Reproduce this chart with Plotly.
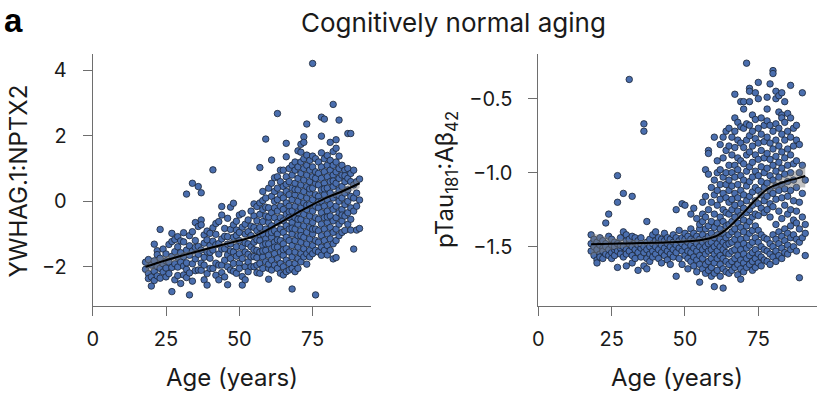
import plotly.graph_objects as go

# ---------------- data: left panel (YWHAG.1:NPTX2) ----------------
ages_a = list(range(18, 92))
vals_a = [
    [-2.08, -1.86],
    [-2.21, -2.36, -1.78],
    [-2.59, -2.31, -1.95],
    [-1.31, -2.14, -1.82, -2.42],
    [-1.51, -2.28, -1.63, -1.99],
    [-0.86, -2.35, -1.74, -2.05],
    [-2.16, -1.91, -1.46],
    [-1.61, -2.04, -2.31, -1.82],
    [-1.32, -1.86, -2.21],
    [-0.98, -2.76, -1.23, -1.68, -2.02],
    [-1.91, -2.40, -1.54, -1.17],
    [-1.08, -1.39, -2.01, -1.71, -2.27],
    [-1.57, -2.51, -1.21, -1.86],
    [-0.96, -1.24, -2.25, -1.69, -1.98],
    [0.22, -2.08, -1.49, -1.88, -2.33],
    [-1.36, -2.86, -1.65, -2.19, -1.05],
    [0.55, -0.93, -1.52, -1.91, -2.44],
    [-0.65, -1.20, -2.12, -1.76, -1.41],
    [0.45, -2.10, -1.38, -0.77, -1.62],
    [0.26, -0.57, -0.72, -1.49, -2.11, -1.89],
    [-1.03, -1.28, -2.40, -1.71, -1.95],
    [-2.56, -1.55, -0.91, -2.21, -1.18],
    [-0.98, -1.74, -1.35, -2.05, -1.56],
    [0.96, -2.05, -1.49, -0.81, -1.22],
    [-1.33, -1.89, -1.01, -2.26, -0.68],
    [-2.40, -1.61, -0.62, -1.29, -1.95],
    [-0.16, -0.42, -1.15, -1.95, -1.46, -2.18],
    [-0.83, -1.45, -1.80, -2.31, -1.07],
    [-0.52, -1.08, -1.64, -2.55, -2.00, -1.31],
    [-2.10, -1.30, -0.86, -1.75, -1.52, -0.18],
    [-0.06, -1.55, -1.90, -1.10, -0.72, -2.14],
    [-0.88, -1.39, -2.20, -0.61, -1.68, -1.05],
    [-1.89, -1.20, -1.60, -0.95, -0.42, -2.05],
    [-2.30, -2.56, -0.37, -1.40, -1.75, -0.79],
    [-2.40, -1.00, -1.55, -2.00, -0.70, -1.27],
    [-0.57, -0.93, -1.30, -1.85, -2.15, -1.62],
    [-1.39, -0.30, -1.05, -1.70, -2.00, -0.76],
    [-1.69, -2.00, -0.80, -1.25, -0.45, -1.48, -0.08],
    [-0.16, -1.18, -1.50, -1.95, -0.60, -0.90, -1.72, -2.18],
    [1.03, -0.05, -0.40, -0.80, -1.20, -1.55, -1.90, -2.20, -1.02],
    [0.30, -0.25, -0.62, -1.00, -1.35, -1.70, -2.05, 0.02, -1.52],
    [1.90, 0.10, -0.45, -0.85, -1.15, -1.50, -1.85, -0.18, -1.30],
    [-2.38, -2.05, -0.20, 0.40, -0.65, -1.00, -1.30, -1.65, -1.92, -0.48],
    [1.26, 0.55, 0.15, -0.35, -0.75, -1.10, -1.45, -1.80, -2.10, -0.95],
    [0.00, 0.30, -0.50, -0.90, -1.25, -1.60, -1.95, -0.20, -1.40, 0.72],
    [2.68, 0.75, 0.40, 0.05, -0.30, -0.65, -1.00, -1.40, -1.75, -2.05, -1.18],
    [0.60, 0.20, -0.15, -0.50, -0.85, -1.20, -1.55, -1.90, -2.20, 0.95],
    [0.95, 0.45, 0.10, -0.25, -0.60, -0.95, -1.30, -1.65, -2.00, -2.25, -1.48],
    [1.77, 1.36, 0.75, 0.30, -0.05, -0.40, -0.75, -1.10, -1.45, -1.80, -2.15, 0.52],
    [1.00, 0.60, 0.20, -0.15, -0.50, -0.85, -1.20, -1.55, -1.90, -2.10, -0.32],
    [-2.68, 1.10, 0.80, 0.40, 0.05, -0.30, -0.65, -1.00, -1.35, -1.70, -2.05, -0.82],
    [1.20, 0.95, 0.55, 0.20, -0.15, -0.50, -0.85, -1.20, -1.55, -1.90, -2.15, 0.36],
    [1.54, 1.05, 0.70, 0.35, 0.00, -0.35, -0.70, -1.05, -1.40, -1.75, -2.05, -0.55],
    [1.50, 1.74, 1.20, 0.85, 0.50, 0.15, -0.20, -0.55, -0.90, -1.25, -1.60, -1.85, -1.05],
    [1.97, 1.80, 1.30, 1.00, 0.65, 0.30, -0.05, -0.40, -0.75, -1.10, -1.45, -1.70],
    [2.36, 1.41, 1.10, 0.80, 0.45, 0.10, -0.25, -0.60, -0.95, -1.30, -1.60, -1.92, -0.12],
    [1.25, 0.95, 0.60, 0.25, -0.10, -0.45, -0.80, -1.15, -1.50, -1.70, 0.38],
    [4.21, 1.38, 1.05, 0.75, 0.40, 0.05, -0.30, -0.65, -1.00, -1.35, -1.60, -0.85],
    [1.30, 0.90, 0.55, 0.20, -0.15, -0.50, -0.85, -1.20, -1.50, -2.86, 0.70],
    [1.20, 0.85, 0.50, 0.15, -0.20, -0.55, -0.90, -1.25, -1.55, -0.02],
    [2.57, 1.99, 1.48, 1.05, 0.70, 0.35, 0.00, -0.35, -0.70, -1.05, -1.40, -1.65],
    [2.51, 1.30, 0.90, 0.55, 0.20, -0.15, -0.50, -0.85, -1.20, -1.50, 0.38],
    [1.40, 1.10, 0.75, 0.40, 0.05, -0.30, -0.65, -1.00, -1.35, -1.64, -0.48],
    [1.80, 1.25, 0.95, 0.60, 0.25, -0.10, -0.45, -0.80, -1.15, -1.50],
    [2.96, 1.52, 1.10, 0.80, 0.45, 0.10, -0.25, -0.60, -0.95, -1.30, -1.76, 0.62],
    [1.88, 1.62, 1.20, 0.90, 0.55, 0.20, -0.15, -0.50, -0.85, -1.20, -1.72],
    [2.48, 1.38, 1.00, 0.70, 0.35, 0.00, -0.35, -0.70, -1.05, 0.18],
    [1.10, 0.80, 0.45, 0.10, -0.25, -0.60, -0.95, -0.42],
    [0.95, 0.60, 0.25, -0.10, -0.45, -0.89, 0.78],
    [2.07, 1.00, 0.70, 0.35, 0.00, -0.35, -0.70],
    [2.07, 0.60, 0.85, 0.15, -0.20, -0.88, -0.55],
    [0.95, 0.50, 0.10, -0.30, -1.46],
    [0.60, 0.25, -0.15, -0.88],
    [0.68, 0.04, -0.83],
]
fit_age_a = [18, 25, 30, 35, 40, 45, 50, 55, 60, 65, 70, 75, 80, 85, 91]
fit_val_a = [-2.00, -1.80, -1.67, -1.55, -1.43, -1.31, -1.20, -1.07, -0.85, -0.60, -0.34, -0.10, 0.12, 0.30, 0.55]
fit_se_a = [0.20, 0.13, 0.09, 0.07, 0.06, 0.05, 0.05, 0.05, 0.05, 0.05, 0.05, 0.05, 0.06, 0.09, 0.15]

# ---------------- data: right panel (pTau181:Abeta42) ----------------
ages_b = list(range(18, 92))
vals_b = [
    [-1.42, -1.48, -1.53],
    [-1.50, -1.45, -1.56],
    [-1.59, -1.61, -1.47, -1.52],
    [-1.49, -1.55, -1.44, -1.57],
    [-1.51, -1.46, -1.53, -1.58],
    [-1.34, -1.48, -1.55, -1.50],
    [-1.28, -1.43, -1.52, -1.56],
    [-1.49, -1.54, -1.45, -1.58],
    [-1.47, -1.52, -1.56, -1.50],
    [-1.02, -1.20, -1.64, -1.48, -1.53],
    [-1.44, -1.51, -1.55, -1.49],
    [-1.14, -1.40, -1.50, -1.57],
    [-1.63, -1.46, -1.52, -1.55, -1.42],
    [-0.37, -1.48, -1.53, -1.45],
    [-1.16, -1.50, -1.56, -1.43, -1.61],
    [-1.47, -1.52, -1.58, -1.44],
    [-1.66, -1.49, -1.54, -1.46],
    [-1.51, -1.57, -1.44, -1.48],
    [-0.67, -0.72, -1.63, -1.50, -1.54],
    [-1.33, -1.65, -1.47, -1.52, -1.58],
    [-1.45, -1.50, -1.55, -1.60],
    [-1.48, -1.53, -1.42, -1.57],
    [-1.50, -1.46, -1.55, -1.40],
    [-1.47, -1.52, -1.58, -1.44],
    [-1.49, -1.54, -1.45, -1.61],
    [-1.51, -1.46, -1.56, -1.41],
    [-1.48, -1.53, -1.44, -1.59],
    [-1.50, -1.45, -1.55, -1.62],
    [-1.47, -1.52, -1.42, -1.57],
    [-1.25, -1.70, -1.49, -1.54, -1.44],
    [-1.51, -1.46, -1.58, -1.39],
    [-1.21, -1.48, -1.53, -1.62, -1.44],
    [-1.22, -1.50, -1.45, -1.56, -1.41],
    [-1.47, -1.53, -1.58, -1.43, -1.65],
    [-1.28, -1.49, -1.54, -1.45, -1.60, -1.38],
    [-1.24, -1.51, -1.46, -1.57, -1.63, -1.41],
    [-1.31, -1.48, -1.53, -1.43, -1.59, -1.67],
    [-1.74, -1.50, -1.45, -1.56, -1.38, -1.62, -1.35],
    [-1.20, -1.47, -1.52, -1.42, -1.58, -1.65, -1.33, -1.28],
    [-1.16, -0.98, -1.50, -1.45, -1.55, -1.38, -1.62, -1.30, -1.68],
    [-0.85, -0.87, -1.01, -1.48, -1.53, -1.43, -1.60, -1.36, -1.25, -1.66],
    [-1.10, -1.47, -1.52, -1.41, -1.58, -1.33, -1.64, -1.20, -1.70],
    [-0.76, -1.77, -1.50, -1.44, -1.55, -1.37, -1.61, -1.28, -1.15, -1.05, -1.68],
    [-1.00, -1.48, -1.53, -1.42, -1.58, -1.34, -1.66, -1.22, -1.12, -0.92],
    [-0.81, -1.08, -1.50, -1.45, -1.56, -1.38, -1.62, -1.30, -1.18, -0.98, -1.70],
    [-1.78, -1.03, -1.47, -1.52, -1.41, -1.58, -1.33, -1.65, -1.25, -1.14, -0.90, -0.76],
    [-1.00, -1.49, -1.54, -1.44, -1.60, -1.36, -1.67, -1.27, -1.17, -0.85, -0.72, -1.08],
    [-0.70, -0.95, -1.05, -1.12, -1.20, -1.28, -1.35, -1.42, -1.48, -1.55, -1.62, -1.68, -0.82],
    [-0.76, -0.88, -1.00, -1.09, -1.18, -1.25, -1.33, -1.40, -1.47, -1.53, -1.60, -1.66],
    [-0.47, -0.63, -0.72, -0.83, -0.95, -1.03, -1.14, -1.22, -1.30, -1.38, -1.45, -1.52, -1.58, -1.64],
    [-0.66, -0.78, -0.90, -0.98, -1.08, -1.17, -1.26, -1.34, -1.42, -1.49, -1.56, -1.62, -1.69],
    [-0.52, -0.69, -0.80, -0.92, -1.02, -1.12, -1.21, -1.29, -1.37, -1.45, -1.52, -1.59, -1.65, -1.72],
    [-0.52, -0.57, -0.70, -0.83, -0.94, -1.05, -1.15, -1.24, -1.32, -1.40, -1.48, -1.55, -1.61, -1.67],
    [-0.26, -0.67, -0.78, -0.88, -0.99, -1.09, -1.19, -1.27, -1.36, -1.44, -1.51, -1.58, -1.64],
    [-0.43, -0.45, -0.52, -0.68, -0.75, -0.86, -0.96, -1.06, -1.16, -1.25, -1.33, -1.41, -1.49, -1.56, -1.62],
    [-0.61, -0.72, -0.82, -0.93, -1.03, -1.13, -1.22, -1.30, -1.39, -1.47, -1.54, -1.60, -1.66],
    [-0.46, -0.64, -0.77, -0.88, -0.99, -1.10, -1.19, -1.28, -1.36, -1.44, -1.52, -1.58, -1.64],
    [-0.39, -0.50, -0.70, -0.80, -0.91, -1.02, -1.12, -1.21, -1.29, -1.39, -1.47, -1.55, -1.61],
    [-0.63, -0.74, -0.85, -0.96, -1.06, -1.15, -1.24, -1.42, -1.50, -1.57, -1.63],
    [-0.68, -0.79, -0.90, -1.00, -1.10, -1.19, -1.27, -1.44, -1.52, -1.59],
    [-0.49, -0.57, -0.65, -0.76, -0.87, -0.97, -1.07, -1.16, -1.25, -1.45, -1.53, -1.60],
    [-0.40, -0.68, -0.80, -0.91, -1.02, -1.12, -1.21, -1.30, -1.48, -1.55, -1.62],
    [-0.31, -0.33, -0.72, -0.84, -0.95, -1.05, -1.14, -1.23, -1.42, -1.50, -1.57],
    [-0.45, -0.50, -0.67, -0.78, -0.89, -0.99, -1.09, -1.18, -1.35, -1.45, -1.53, -1.60],
    [-0.48, -0.59, -0.70, -0.82, -0.93, -1.03, -1.12, -1.26, -1.40, -1.48, -1.56],
    [-0.46, -0.61, -0.63, -0.74, -0.86, -0.97, -1.08, -1.17, -1.31, -1.43, -1.51, -1.58],
    [-0.52, -0.66, -0.78, -0.90, -1.01, -1.11, -1.22, -1.38, -1.46, -1.54],
    [-0.60, -0.72, -0.84, -0.95, -1.06, -1.16, -1.28, -1.41, -1.49, -1.55],
    [-0.41, -0.63, -0.76, -0.88, -1.00, -1.12, -1.25, -1.36, -1.44, -1.52],
    [-0.70, -0.82, -0.94, -1.05, -1.19, -1.32, -1.42, -1.50],
    [-0.68, -0.92, -1.34, -0.78, -1.10, -1.26, -1.45, -1.53],
    [-0.81, -1.71, -1.00, -1.20, -1.38, -1.47],
    [-0.46, -0.95, -1.14, -1.30, -1.44],
    [-1.56, -1.41, -1.35, -1.05],
]
fit_age_b = [18, 25, 30, 35, 40, 45, 50, 55, 58, 61, 64, 67, 70, 73, 76, 79, 82, 85, 88, 91]
fit_val_b = [-1.484, -1.480, -1.478, -1.476, -1.474, -1.470, -1.465, -1.457, -1.445, -1.425, -1.385,
             -1.330, -1.270, -1.205, -1.145, -1.100, -1.075, -1.055, -1.040, -1.022]
fit_se_b = [0.075, 0.040, 0.025, 0.018, 0.015, 0.014, 0.014, 0.015, 0.016, 0.017, 0.018,
            0.019, 0.020, 0.021, 0.023, 0.026, 0.032, 0.042, 0.058, 0.078]

x_ticks = [0, 25, 50, 75]
y_ticks_a = [-2, 0, 2, 4]
y_ticks_b = [-1.5, -1.0, -0.5]

# ---------------- styling ----------------
FONT = "Inter"
PT_FILL = "#4a6eae"
PT_EDGE = "#1b2435"
AX_COL = "#6e6e6e"
TXT = "#1a1a1a"

W, H = 827, 398


def px(x):
    return x / W


def py(y):
    return 1 - y / H


def expand(ages, vals):
    xs, ys = [], []
    for a, vs in zip(ages, vals):
        for v in vs:
            xs.append(a)
            ys.append(v)
    return xs, ys


fig = go.Figure()

panels = [
    (ages_a, vals_a, fit_age_a, fit_val_a, fit_se_a, "x", "y"),
    (ages_b, vals_b, fit_age_b, fit_val_b, fit_se_b, "x2", "y2"),
]
for ages, vals, fa, fv, fs, xa, ya in panels:
    xs, ys = expand(ages, vals)
    fig.add_trace(go.Scatter(
        x=xs, y=ys, mode="markers", xaxis=xa, yaxis=ya, showlegend=False,
        marker=dict(size=6.5, color=PT_FILL, line=dict(color=PT_EDGE, width=0.8)),
        hoverinfo="skip"))
    upper = [v + s for v, s in zip(fv, fs)]
    lower = [v - s for v, s in zip(fv, fs)]
    fig.add_trace(go.Scatter(
        x=fa + fa[::-1], y=upper + lower[::-1], mode="lines", fill="toself",
        fillcolor="rgba(120,120,120,0.45)", line=dict(width=0), xaxis=xa, yaxis=ya,
        showlegend=False, hoverinfo="skip"))
    fig.add_trace(go.Scatter(
        x=fa, y=fv, mode="lines", line=dict(color="black", width=2, shape="spline"),
        xaxis=xa, yaxis=ya, showlegend=False, hoverinfo="skip"))

axis_common = dict(
    showgrid=False, zeroline=False, showline=True, linecolor=AX_COL, linewidth=1,
    ticks="outside", ticklen=9, tickwidth=1, tickcolor=AX_COL, automargin=False,
    tickfont=dict(family=FONT, size=20, color=TXT), mirror=False,
)

xl = (px(92.7), px(371.0))
xr = (px(538.3), px(816.7))
yd = (py(305.7), py(54.3))

fig.update_layout(
    template="none",
    width=W, height=H, margin=dict(l=0, r=0, t=0, b=0, pad=0),
    paper_bgcolor="white", plot_bgcolor="white",
    xaxis=dict(domain=xl, range=[0, 94.9], tickvals=x_ticks, anchor="y",
               ticklabelstandoff=6, **axis_common),
    yaxis=dict(domain=yd, range=[-3.19, 4.49], tickvals=y_ticks_a, anchor="x",
               ticklabelstandoff=12, **axis_common),
    xaxis2=dict(domain=xr, range=[0, 94.9], tickvals=x_ticks, anchor="y2",
                ticklabelstandoff=6, **axis_common),
    yaxis2=dict(domain=yd, range=[-1.899, -0.2], tickvals=y_ticks_b, tickformat=".1f",
                anchor="x2", ticklabelstandoff=12, **axis_common),
    showlegend=False,
)

ann = [
    dict(text="<b>a</b>", x=px(2), y=py(0), xanchor="left", yanchor="top",
         font=dict(family="Liberation Sans", size=33, color="black")),
    dict(text="Cognitively normal aging", x=px(453.5), y=py(22), xanchor="center",
         yanchor="middle", font=dict(family=FONT, size=26, color=TXT)),
    dict(text="Age (years)", x=px(231.5), y=py(377), xanchor="center", yanchor="middle",
         font=dict(family=FONT, size=24, color=TXT)),
    dict(text="Age (years)", x=px(676.7), y=py(377), xanchor="center", yanchor="middle",
         font=dict(family=FONT, size=24, color=TXT)),
    dict(text="YWHAG.1:NPTX2", x=px(17.5), y=py(181), xanchor="center", yanchor="middle",
         textangle=-90, font=dict(family=FONT, size=24, color=TXT)),
    dict(text="pTau<sub>181</sub>:Aβ<sub>42</sub>", x=px(446), y=py(180), xanchor="center",
         yanchor="middle", textangle=-90, font=dict(family=FONT, size=24, color=TXT)),
]
for a in ann:
    a.update(xref="paper", yref="paper", showarrow=False)
fig.update_layout(annotations=ann)

# remove the browser's default 8px body margin so the figure fills the window
fig.write_html("out.html", config={"displayModeBar": False, "staticPlot": True},
               post_script="document.body.style.margin='0px';")
